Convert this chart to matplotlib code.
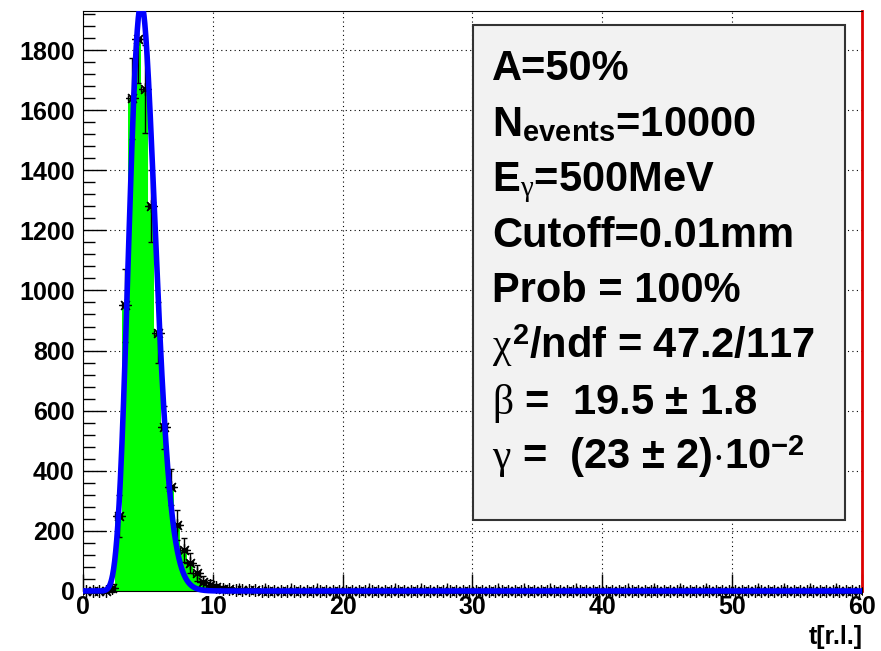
import numpy as np
import matplotlib
matplotlib.use('Agg')
import matplotlib.pyplot as plt
from matplotlib.patches import Rectangle
from matplotlib.ticker import MultipleLocator
from math import lgamma, log

plt.rcParams['font.family'] = ['Liberation Sans', 'DejaVu Sans']
plt.rcParams['font.weight'] = 'bold'
plt.rcParams['mathtext.fontset'] = 'custom'
plt.rcParams['mathtext.rm'] = 'Liberation Sans:bold'
plt.rcParams['mathtext.bf'] = 'Liberation Sans:bold'
plt.rcParams['mathtext.it'] = 'Liberation Serif:normal'

# histogram: 120 bins over t = 0..60
n_bins = 120
t_min, t_max = 0.0, 60.0
counts = [
    0, 0, 0, 0, 10, 250, 950, 1640, 1835, 1670,
    1280, 860, 545, 345, 220, 135, 92, 60, 30, 20,
    12, 8, 5, 4, 3, 2, 2, 1, 1, 1,
    1, 0, 1, 0, 1, 0, 0, 1, 0, 0,
    0, 1, 0, 0, 0, 0, 1, 0, 0, 0,
    0, 0, 0, 1, 0, 0, 0, 0, 0, 0,
    0, 0, 1, 0, 0, 0, 0, 0, 0, 0,
    0, 0, 0, 0, 0, 1, 0, 0, 0, 0,
    0, 0, 0, 0, 0, 0, 0, 0, 1, 0,
    0, 0, 0, 0, 0, 0, 0, 0, 0, 0,
    0, 0, 0, 1, 0, 0, 0, 0, 0, 0,
    0, 0, 0, 0, 0, 0, 0, 0, 0, 0,
]
errors = [
    0, 0, 0, 0, 12, 70, 120, 135, 145, 145,
    120, 100, 72, 60, 50, 40, 33, 27, 20, 15,
    11, 9, 7, 7, 6, 5, 5, 3, 3, 3,
    3, 0, 3, 0, 3, 0, 0, 3, 0, 0,
    0, 3, 0, 0, 0, 0, 3, 0, 0, 0,
    0, 0, 0, 3, 0, 0, 0, 0, 0, 0,
    0, 0, 3, 0, 0, 0, 0, 0, 0, 0,
    0, 0, 0, 0, 0, 3, 0, 0, 0, 0,
    0, 0, 0, 0, 0, 0, 0, 0, 3, 0,
    0, 0, 0, 0, 0, 0, 0, 0, 0, 0,
    0, 0, 0, 3, 0, 0, 0, 0, 0, 0,
    0, 0, 0, 0, 0, 0, 0, 0, 0, 0,
]

# fit parameters
n_events = 10000
beta = 19.5
gamma_par = 0.23

info_lines = [
    'A=50%',
    r'N$_{\mathbf{events}}$=10000',
    r'E$_{\gamma}$=500MeV',
    'Cutoff=0.01mm',
    'Prob = 100%',
    r'$\chi^{\mathbf{2}}$/ndf = 47.2/117',
    r'$\beta$ =  19.5 $\pm$ 1.8',
    r'$\gamma$ =  (23 $\pm$ 2)$\cdot$10$^{\mathbf{-2}}$',
]

edges = np.linspace(t_min, t_max, n_bins + 1)
centers = 0.5 * (edges[:-1] + edges[1:])
width = edges[1] - edges[0]

fig = plt.figure(figsize=(8.81, 6.51), dpi=100)
ax = fig.add_axes([0.0942, 0.0922, 0.8842, 0.891])
ax.set_xlim(t_min, t_max)
ax.set_ylim(0, 1930)

# clip region that lets marks spill slightly below the x axis
clip = Rectangle((0, -0.03), 1, 1.03, transform=ax.transAxes)

ax.grid(True, color='black', lw=0.8, ls=(0, (1, 3)))
ax.set_axisbelow(True)

ax.stairs(counts, edges, fill=True, color='#00ff00', zorder=2)

eb = ax.errorbar(centers, counts, xerr=width / 2, yerr=errors, fmt='none',
                 ecolor='black', elinewidth=1, capsize=2.5, zorder=3)
for art in eb.get_children():
    art.set_clip_path(clip)
mk, = ax.plot(centers, counts, ls='none', marker=(8, 2, 0), ms=9,
              mec='black', mew=0.9, zorder=3)
mk.set_clip_path(clip)

t = np.linspace(0.02, t_max, 3000)
logf = (log(n_events * width) + beta * np.log(t) - t / gamma_par
        - (beta + 1) * log(gamma_par) - lgamma(beta + 1))
fit, = ax.plot(t, np.exp(logf), color='#0000ff', lw=4, zorder=4)
fit.set_clip_path(clip)

ax.set_xticks(np.arange(0, 61, 10))
ax.xaxis.set_minor_locator(MultipleLocator(2))
ax.set_yticks(np.arange(0, 1801, 200))
ax.yaxis.set_minor_locator(MultipleLocator(40))
ax.tick_params(axis='y', which='major', direction='in', length=16.5, width=1,
               pad=6, labelsize=18)
ax.tick_params(axis='y', which='minor', direction='in', length=8.3, width=1)
ax.tick_params(axis='x', which='major', direction='in', length=12, width=1,
               pad=3, labelsize=18)
ax.tick_params(axis='x', which='minor', direction='in', length=6, width=1)
for lab in ax.get_xticklabels() + ax.get_yticklabels():
    lab.set_fontweight('bold')

ax.spines['right'].set_color('#dd0000')
ax.spines['right'].set_linewidth(2)

# statistics box
ax.add_patch(Rectangle((0.5006, 0.1224), 0.4774, 0.8536, transform=ax.transAxes,
                       facecolor='#f2f2f2', edgecolor='#333333', lw=1.5, zorder=6))
baselines = [80, 136, 191, 247, 302, 358, 414, 469]
for line, yb in zip(info_lines, baselines):
    fig.text(492 / 881, 1 - yb / 651, line, fontsize=30, fontweight='bold',
             va='baseline', ha='left', zorder=7)

fig.text(863 / 881, 1 - 644 / 651, 't[r.l.]', fontsize=18, fontweight='bold',
         ha='right', va='baseline')

fig.savefig('out.png', dpi=100)
